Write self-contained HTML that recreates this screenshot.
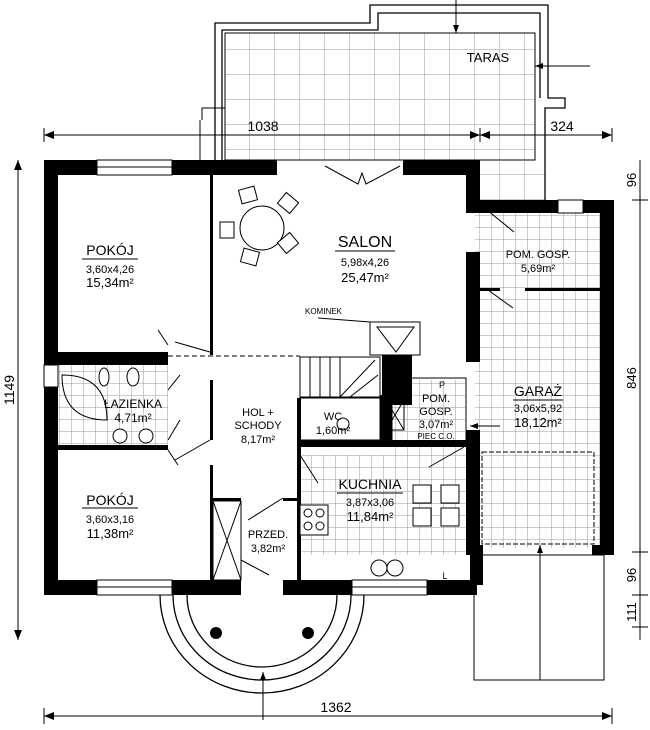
<!DOCTYPE html>
<html><head><meta charset="utf-8"><style>
html,body{margin:0;padding:0;background:#fff}
svg{display:block}
text{font-family:"Liberation Sans",sans-serif;fill:#000}
</style></head><body>
<svg width="650" height="730" viewBox="0 0 650 730" xmlns="http://www.w3.org/2000/svg">
<defs>
<pattern id="tile" width="25" height="25" patternUnits="userSpaceOnUse">
<path d="M25 0V25M0 25H25" stroke="#999" stroke-width="1" fill="none"/>
</pattern>
<pattern id="tile2" width="12" height="12" patternUnits="userSpaceOnUse">
<path d="M12 0V12M0 12H12" stroke="#999" stroke-width="1" fill="none"/>
</pattern>
<marker id="ar" markerWidth="8" markerHeight="8" refX="8" refY="4" orient="auto"><path d="M0,1 L8,4 L0,7z" fill="#000"/></marker>
</defs>
<!-- terrace -->
<rect x="225" y="33" width="310" height="127" fill="url(#tile)" stroke="#000" stroke-width="1"/>
<rect x="466" y="160" width="80" height="45" fill="url(#tile)"/>
<polyline points="215,160 215,23 370,23 370,5 548,5 548,98 565,98 565,108 545,108 545,200" fill="none" stroke="#000" stroke-width="1.3"/>
<polyline points="222,160 222,30 378,30 378,13 540,13 540,98" fill="none" stroke="#000" stroke-width="1.3"/>
<polyline points="202,120 202,108 225,108" fill="none" stroke="#000"/>
<polyline points="200,160 200,120" fill="none" stroke="#000"/>
<line x1="456" y1="0" x2="456" y2="33" stroke="#000" marker-end="url(#ar)"/>
<line x1="590" y1="66" x2="535" y2="66" stroke="#000" marker-end="url(#ar)"/>
<text x="488" y="62" font-size="13" text-anchor="middle">TARAS</text>
<!-- dimension top -->
<line x1="44" y1="135" x2="612" y2="135" stroke="#000"/>
<path d="M44,135 l10,-4 v8z M480,135 l-10,-4 v8z M480,135 l10,-4 v8z M612,135 l-10,-4 v8z" fill="#000"/>
<line x1="44" y1="128" x2="44" y2="142" stroke="#000"/><line x1="480" y1="128" x2="480" y2="142" stroke="#000"/><line x1="612" y1="128" x2="612" y2="142" stroke="#000"/>
<text x="263" y="131" font-size="14" text-anchor="middle">1038</text>
<text x="562" y="131" font-size="14" text-anchor="middle">324</text>
<!-- floors -->
<rect x="475" y="213" width="127" height="335" fill="url(#tile2)"/>
<rect x="58" y="365" width="110" height="80" fill="url(#tile2)"/>
<rect x="300" y="455" width="166" height="100" fill="url(#tile2)"/>
<rect x="385" y="380" width="80" height="75" fill="url(#tile2)"/>
<!-- walls -->
<g fill="#000">
<rect x="44" y="160" width="14" height="435"/>
<rect x="44" y="160" width="53" height="15"/>
<rect x="172" y="160" width="105" height="15"/>
<rect x="403" y="160" width="77" height="15"/>
<rect x="466" y="160" width="14" height="52"/>
<rect x="466" y="252" width="14" height="110"/>
<rect x="466" y="430" width="14" height="125"/>
<rect x="466" y="200" width="92" height="13"/>
<rect x="583" y="200" width="31" height="13"/>
<rect x="600" y="200" width="14" height="355"/>
<rect x="470" y="545" width="13" height="40"/>
<rect x="592" y="545" width="22" height="10"/>
<rect x="44" y="580" width="53" height="15"/>
<rect x="172" y="580" width="69" height="15"/>
<rect x="283" y="580" width="69" height="15"/>
<rect x="427" y="580" width="50" height="15"/>
<rect x="44" y="352" width="124" height="13"/>
<rect x="44" y="445" width="124" height="5"/>
<rect x="150" y="352" width="18" height="13"/>
<rect x="382" y="355" width="30" height="50"/>
<rect x="300" y="440" width="166" height="7"/>
<rect x="380" y="395" width="12" height="50"/>
<rect x="210" y="175" width="3" height="180"/>
<rect x="210" y="380" width="3" height="60"/>
<rect x="210" y="465" width="3" height="115"/>
<rect x="297" y="398" width="4" height="182"/>
<rect x="213" y="498" width="28" height="3"/>
<rect x="283" y="498" width="17" height="3"/>
<rect x="480" y="288" width="20" height="3"/>
<rect x="525" y="288" width="77" height="3"/>
</g>
<line x1="168" y1="356" x2="300" y2="356" stroke="#000" stroke-dasharray="5,3"/>
<!-- windows -->
<g fill="#fff" stroke="#000" stroke-width="1">
<rect x="97" y="160" width="75" height="15"/><line x1="97" y1="167" x2="172" y2="167"/>
<rect x="558" y="200" width="25" height="13"/>
<rect x="97" y="580" width="75" height="15"/><line x1="97" y1="587" x2="172" y2="587"/>
<rect x="352" y="580" width="75" height="15"/><line x1="352" y1="587" x2="427" y2="587"/>
<rect x="44" y="365" width="14" height="22"/>
</g>
<!-- doors -->
<g fill="none" stroke="#000" stroke-width="1">
<polyline points="325,166 358,184 362,173 366,184 400,166"/>
<path d="M487,210 l27,22 M168,345 l-10,-15 M210,352 l-35,-10 M168,450 l10,15 M210,440 l-35,20 M241,560 l28,15 M283,498 l-35,22 M488,290 l25,18 M300,455 l18,28 M464,447 l-35,20"/>
<path d="M168,390 l12,-15 M168,440 l12,-20"/>
<rect x="213" y="501" width="28" height="79"/><path d="M213,501 l28,79 M241,501 l-28,79"/>
<rect x="370" y="322" width="50" height="33"/><path d="M377,327 h37 l-18,25z"/>
<polyline points="318,318 370,322"/><text x="305" y="314" font-size="8" stroke="none">KOMINEK</text>
</g>
<!-- stairs -->
<g stroke="#000" fill="none">
<rect x="300" y="357" width="80" height="40"/>
<path d="M310,357v40M320,357v40M330,357v40M340,357v40 M340,397 L375,360 M350,397 L378,375"/>
<rect x="300" y="398" width="80" height="42"/>
<rect x="386" y="400" width="18" height="30"/><path d="M386,400 l18,30 M404,400 l-18,30"/>
<rect x="392" y="378" width="74" height="64"/>
<rect x="482" y="452" width="112" height="92" stroke-dasharray="5,2"/>
<rect x="474" y="555" width="130" height="125"/><line x1="540" y1="555" x2="540" y2="680"/>
<line x1="540" y1="680" x2="540" y2="545" marker-end="url(#ar)"/>
</g>
<!-- furniture -->
<g stroke="#000" fill="#fff">
<circle cx="262" cy="228" r="22"/>
<rect x="240" y="188" width="16" height="14" transform="rotate(-15 248 195)"/>
<rect x="280" y="196" width="16" height="14" transform="rotate(40 288 203)"/>
<rect x="220" y="222" width="14" height="16"/>
<rect x="280" y="236" width="16" height="14" transform="rotate(-40 288 243)"/>
<rect x="242" y="250" width="16" height="14" transform="rotate(15 250 257)"/>
<rect x="413" y="485" width="18" height="18"/><rect x="441" y="485" width="18" height="18"/>
<rect x="413" y="508" width="18" height="18"/><rect x="441" y="508" width="18" height="18"/>
<rect x="300" y="505" width="28" height="30"/>
<circle cx="308" cy="513" r="4"/><circle cx="320" cy="513" r="4"/><circle cx="308" cy="526" r="4"/><circle cx="320" cy="526" r="4"/>
<circle cx="379" cy="568" r="8"/><circle cx="395" cy="568" r="8"/>
<path d="M62,375 q45,0 45,45 q-45,0 -45,-45z" fill="none"/>
<ellipse cx="104" cy="377" rx="5" ry="9"/><ellipse cx="133" cy="377" rx="6" ry="9"/>
<circle cx="120" cy="436" r="7"/><circle cx="146" cy="436" r="7"/>
<circle cx="343" cy="424" r="6"/>
</g>
<!-- porch -->
<g fill="none" stroke="#000" stroke-width="1.3">
<path d="M160,595 A102,98 0 0 0 364,595"/>
<path d="M173,595 A89,85 0 0 0 351,595"/>
<path d="M187,595 A75,72 0 0 0 337,595"/>
</g>
<circle cx="216" cy="633" r="6"/><circle cx="308" cy="633" r="6"/>
<line x1="263" y1="720" x2="263" y2="672" stroke="#000" marker-end="url(#ar)"/>
<!-- dimension bottom -->
<line x1="44" y1="716" x2="612" y2="716" stroke="#000"/>
<path d="M44,716 l10,-4 v8z M612,716 l-10,-4 v8z" fill="#000"/>
<line x1="44" y1="708" x2="44" y2="724" stroke="#000"/><line x1="612" y1="708" x2="612" y2="724" stroke="#000"/>
<text x="336" y="712" font-size="14" text-anchor="middle">1362</text>
<!-- left dimension -->
<line x1="18" y1="160" x2="18" y2="640" stroke="#000"/>
<path d="M18,160 l-4,10 h8z M18,640 l-4,-10 h8z" fill="#000"/>
<text transform="translate(14,390) rotate(-90)" font-size="14" text-anchor="middle">1149</text>
<!-- right dimension -->
<line x1="640" y1="160" x2="640" y2="640" stroke="#000"/>
<g stroke="#000"><line x1="632" y1="200" x2="648" y2="200"/><line x1="632" y1="552" x2="648" y2="552"/><line x1="632" y1="595" x2="648" y2="595"/><line x1="632" y1="627" x2="648" y2="627"/></g>
<g font-size="13" text-anchor="middle">
<text transform="translate(636,180) rotate(-90)">96</text>
<text transform="translate(636,378) rotate(-90)">846</text>
<text transform="translate(636,575) rotate(-90)">96</text>
<text transform="translate(636,612) rotate(-90)">111</text>
</g>
<!-- labels -->
<g text-anchor="middle">
<text x="110" y="255" font-size="14">POKÓJ</text><line x1="82" y1="259" x2="138" y2="259" stroke="#000"/>
<text x="110" y="273" font-size="11">3,60x4,26</text><text x="110" y="287" font-size="13">15,34m²</text>
<text x="365" y="247" font-size="16">SALON</text><line x1="335" y1="251" x2="395" y2="251" stroke="#000"/>
<text x="365" y="266" font-size="11">5,98x4,26</text><text x="365" y="282" font-size="13">25,47m²</text>
<text x="538" y="258" font-size="11">POM. GOSP.</text><text x="538" y="272" font-size="11">5,69m²</text>
<text x="133" y="408" font-size="12">ŁAZIENKA</text><text x="133" y="422" font-size="12">4,71m²</text>
<text x="258" y="416" font-size="11">HOL +</text><text x="258" y="429" font-size="11">SCHODY</text><text x="258" y="443" font-size="11">8,17m²</text>
<text x="333" y="420" font-size="11">WC</text><text x="333" y="434" font-size="11">1,60m²</text>
<text x="442" y="388" font-size="9">P</text>
<text x="436" y="402" font-size="11">POM.</text><text x="436" y="415" font-size="11">GOSP.</text><text x="436" y="428" font-size="11">3,07m²</text>
<text x="436" y="439" font-size="8">PIEC C.O.</text>
<text x="538" y="396" font-size="14">GARAŻ</text><line x1="513" y1="400" x2="563" y2="400" stroke="#000"/>
<text x="538" y="412" font-size="11">3,06x5,92</text><text x="538" y="427" font-size="13">18,12m²</text>
<text x="370" y="489" font-size="14">KUCHNIA</text><line x1="337" y1="493" x2="403" y2="493" stroke="#000"/>
<text x="370" y="506" font-size="11">3,87x3,06</text><text x="370" y="521" font-size="13">11,84m²</text>
<text x="445" y="579" font-size="9">L</text>
<text x="110" y="505" font-size="14">POKÓJ</text><line x1="82" y1="508" x2="138" y2="508" stroke="#000"/>
<text x="110" y="523" font-size="11">3,60x3,16</text><text x="110" y="538" font-size="13">11,38m²</text>
<text x="268" y="538" font-size="11">PRZED.</text><text x="268" y="552" font-size="11">3,82m²</text>
</g>
<line x1="500" y1="426" x2="470" y2="426" stroke="#000" marker-end="url(#ar)"/>
</svg>
</body></html>
